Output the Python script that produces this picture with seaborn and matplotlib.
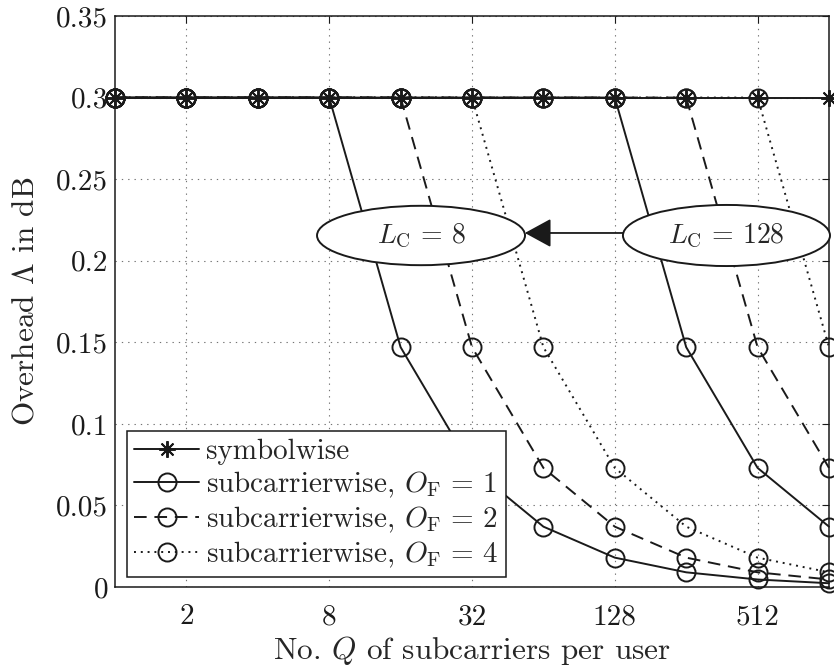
import matplotlib
matplotlib.use("Agg")
import matplotlib.pyplot as plt
from matplotlib.patches import Ellipse
from matplotlib.lines import Line2D
import seaborn as sns

# ---------------- data ----------------
Q = [1, 2, 4, 8, 16, 32, 64, 128, 256, 512, 1024]
symbolwise = [0.3, 0.3, 0.3, 0.3, 0.3, 0.3, 0.3, 0.3, 0.3, 0.3, 0.3]
# L_C = 8
sc8_of1 = [0.3, 0.3, 0.3, 0.3, 0.147, 0.073, 0.037, 0.018, 0.009, 0.0046, 0.0023]
sc8_of2 = [0.3, 0.3, 0.3, 0.3, 0.3, 0.147, 0.073, 0.037, 0.018, 0.009, 0.0046]
sc8_of4 = [0.3, 0.3, 0.3, 0.3, 0.3, 0.3, 0.147, 0.073, 0.037, 0.018, 0.009]
# L_C = 128
sc128_of1 = [0.3, 0.3, 0.3, 0.3, 0.3, 0.3, 0.3, 0.3, 0.147, 0.073, 0.037]
sc128_of2 = [0.3, 0.3, 0.3, 0.3, 0.3, 0.3, 0.3, 0.3, 0.3, 0.147, 0.073]
sc128_of4 = [0.3, 0.3, 0.3, 0.3, 0.3, 0.3, 0.3, 0.3, 0.3, 0.3, 0.147]

xticks = [2, 8, 32, 128, 512]
xticklabels = ["2", "8", "32", "128", "512"]
yticks = [0, 0.05, 0.1, 0.15, 0.2, 0.25, 0.3, 0.35]
yticklabels = ["0", "0.05", "0.1", "0.15", "0.2", "0.25", "0.3", "0.35"]

legend_labels = ["symbolwise",
                 r"subcarrierwise, $O_{\mathrm{F}}\,=\,1$",
                 r"subcarrierwise, $O_{\mathrm{F}}\,=\,2$",
                 r"subcarrierwise, $O_{\mathrm{F}}\,=\,4$"]
ann_labels = [r"$L_{\mathrm{C}}\,=\,8$", r"$L_{\mathrm{C}}\,=\,128$"]

# ---------------- style ----------------
sns.set_theme(style="white")
plt.rcParams.update({
    "font.family": "serif",
    "font.serif": ["cmr10", "DejaVu Serif"],
    "mathtext.fontset": "cm",
    "axes.formatter.use_mathtext": True,
    "font.size": 21,
})

FS_TICK = 21
FS_LABEL = 22.5
FS_LEG = 21
FS_ANN = 20

fig = plt.figure(figsize=(8.34, 6.66), dpi=100)
ax = fig.add_axes([115/834, 1-587/666, 714/834, 571/666])

lw = 1.4
ms = 13
mew = 1.4
styles = {
    "solid": "-",
    "dash": (0, (6.5, 4)),
    "dot": (0, (1, 2.5)),
}

def draw(y, ls, marker, mfc="none", msize=ms):
    sns.lineplot(x=Q, y=y, ax=ax, color="k", linestyle=ls, linewidth=lw,
                 marker=marker, markersize=msize, markerfacecolor=mfc,
                 markeredgecolor="k", markeredgewidth=mew, clip_on=False,
                 legend=False, zorder=3)

for ser in (sc8_of4, sc128_of4):
    draw(ser, styles["dot"], "o")
for ser in (sc8_of2, sc128_of2):
    draw(ser, styles["dash"], "o")
for ser in (sc8_of1, sc128_of1):
    draw(ser, styles["solid"], "o")
draw(symbolwise, "-", (8, 2, 0), mfc="k", msize=12)

ax.set_xscale("log", base=2)
ax.set_xlim(1, 1024)
ax.set_ylim(0, 0.35)
ax.set_xticks(xticks)
ax.set_xticklabels(xticklabels)
ax.minorticks_off()
ax.set_yticks(yticks)
ax.set_yticklabels(yticklabels)

ax.grid(True, which="major", color="0.45", linestyle=(0, (1.2, 4.5)), linewidth=0.8)
ax.tick_params(axis="both", direction="in", length=5, width=0.8, colors="k",
               top=True, right=True, labelsize=FS_TICK)
ax.tick_params(axis="x", pad=12)
ax.tick_params(axis="y", pad=5)
for s in ax.spines.values():
    s.set_color("k")
    s.set_linewidth(1.1)
    s.set_zorder(5)

ax.set_xlabel(r"No. $Q$ of subcarriers per user", fontsize=FS_LABEL, labelpad=3)
ax.set_ylabel(r"Overhead $\Lambda$ in dB", fontsize=FS_LABEL, labelpad=12)

# legend
handles = [
    Line2D([], [], color="k", lw=lw, marker=(8, 2, 0), markersize=12, markeredgewidth=mew),
    Line2D([], [], color="k", lw=lw, linestyle="-", marker="o", markersize=ms, mfc="none", mec="k", markeredgewidth=mew),
    Line2D([], [], color="k", lw=lw, linestyle=styles["dash"], marker="o", markersize=ms, mfc="none", mec="k", markeredgewidth=mew),
    Line2D([], [], color="k", lw=lw, linestyle=styles["dot"], marker="o", markersize=ms, mfc="none", mec="k", markeredgewidth=mew),
]
leg = ax.legend(handles, legend_labels, loc="lower left",
                bbox_to_anchor=(0.017, 0.017), borderaxespad=0,
                fancybox=False, framealpha=1, edgecolor="k",
                fontsize=FS_LEG, handlelength=2.2, handletextpad=0.25,
                labelspacing=0.16, borderpad=0.25)
leg.get_frame().set_linewidth(1.1)
leg.set_zorder(10)

# ellipse annotations
e_y = 0.6156
for cx, w, h, txt in [(0.4286, 0.2913, 0.104, ann_labels[0]),
                      (0.8564, 0.290, 0.107, ann_labels[1])]:
    ell = Ellipse((cx, e_y), w, h, transform=ax.transAxes, facecolor="white",
                  edgecolor="k", linewidth=1.4, zorder=8, clip_on=False)
    ax.add_patch(ell)
    ax.text(cx, e_y, txt, transform=ax.transAxes, ha="center", va="center",
            fontsize=FS_ANN, zorder=9)

ax.annotate("", xy=(0.574, 0.620), xytext=(0.7115, 0.620),
            xycoords="axes fraction", textcoords="axes fraction",
            arrowprops=dict(arrowstyle="-|>,head_length=1.1,head_width=0.6",
                            mutation_scale=15, color="k", lw=1.3,
                            shrinkA=0, shrinkB=0), zorder=9)

fig.savefig("out.png", dpi=100)
